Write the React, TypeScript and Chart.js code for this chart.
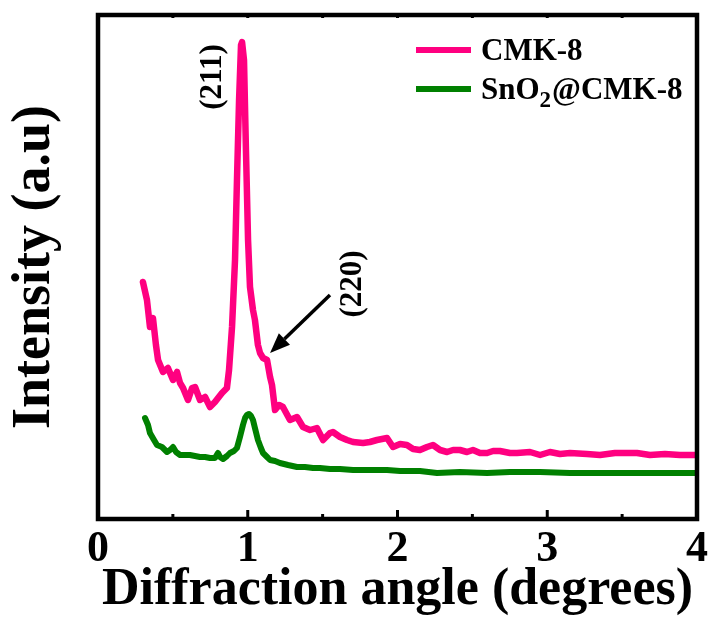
import React, { useEffect, useRef } from "react";
import { Chart, registerables } from "chart.js";

Chart.register(...registerables);

// ---- Data (x in degrees, y intensity in arbitrary units) ----
const cmkX = [0.300, 0.327, 0.347, 0.367, 0.387, 0.401, 0.434, 0.467, 0.501, 0.528, 0.548, 0.568, 0.601, 0.628, 0.648, 0.681, 0.715, 0.748, 0.781, 0.828, 0.861, 0.875, 0.895, 0.915, 0.928, 0.942, 0.955, 0.962, 0.975, 0.988, 1.002, 1.015, 1.035, 1.048, 1.068, 1.082, 1.102, 1.129, 1.149, 1.162, 1.182, 1.209, 1.235, 1.282, 1.329, 1.369, 1.416, 1.462, 1.503, 1.549, 1.569, 1.616, 1.663, 1.703, 1.770, 1.816, 1.863, 1.930, 1.970, 2.017, 2.063, 2.104, 2.150, 2.197, 2.237, 2.284, 2.331, 2.371, 2.417, 2.464, 2.504, 2.551, 2.598, 2.638, 2.684, 2.751, 2.798, 2.885, 2.952, 3.018, 3.085, 3.152, 3.265, 3.352, 3.452, 3.599, 3.686, 3.786, 3.886, 4.000];
const cmkY = [237, 219, 192, 201, 174, 159, 147, 151, 139, 147, 136, 131, 119, 131, 132, 119, 122, 112, 117, 126, 131, 149, 192, 259, 339, 419, 474, 477, 459, 369, 279, 232, 209, 199, 174, 166, 161, 159, 142, 134, 109, 114, 112, 99, 102, 92, 89, 91, 79, 86, 87, 82, 79, 77, 76, 77, 79, 81, 72, 75, 74, 70, 69, 72, 74, 69, 67, 69, 69, 67, 69, 66, 66, 68, 68, 66, 66, 67, 64, 67, 65, 66, 65, 64, 66, 66, 64, 65, 64, 64];

const snoX = [0.314, 0.334, 0.347, 0.374, 0.394, 0.427, 0.461, 0.481, 0.501, 0.521, 0.548, 0.581, 0.614, 0.648, 0.681, 0.715, 0.748, 0.781, 0.801, 0.815, 0.835, 0.861, 0.881, 0.908, 0.928, 0.948, 0.968, 0.982, 0.995, 1.008, 1.022, 1.035, 1.048, 1.068, 1.088, 1.102, 1.129, 1.149, 1.182, 1.215, 1.269, 1.329, 1.382, 1.436, 1.482, 1.549, 1.616, 1.703, 1.816, 1.930, 2.017, 2.150, 2.264, 2.417, 2.598, 2.751, 2.952, 3.152, 3.352, 3.553, 3.753, 4.000];
const snoY = [101, 94, 86, 79, 74, 72, 67, 69, 72, 67, 64, 64, 64, 63, 62, 62, 61, 61, 66, 62, 60, 63, 66, 68, 71, 82, 94, 101, 104, 105, 103, 99, 91, 79, 71, 66, 62, 59, 58, 56, 54, 52, 52, 51, 51, 50, 50, 49, 49, 49, 48, 48, 46, 47, 46, 47, 47, 46, 46, 46, 46, 46];

const xTicks = [0, 1, 2, 3, 4];
const xMin = 0;
const xMax = 4;
const yMin = 0;
const yMax = 504;

const seriesNames = ["CMK-8", "SnO2@CMK-8"];
// legend label segments: [text, isSubscript]
const legendSegments: [string, boolean][][] = [
  [["CMK-8", false]],
  [["SnO", false], ["2", true], ["@CMK-8", false]],
];
const seriesColors = ["#FF0080", "#008000"];

const xTitle = "Diffraction angle (degrees)";
const yTitle = "Intensity (a.u)";

// peak annotations in data coordinates
const peakLabels = ["(211)", "(220)"];
const peakLabelX = [0.768, 1.703];
const peakLabelY = [442, 235];
const arrowFrom = [1.549, 224];
const arrowTo = [1.149, 166];

const FONT = "'Liberation Serif', 'Times New Roman', serif";

const decorPlugin = {
  id: "decor",
  afterDatasetsDraw(chart: any) {
    const { ctx, chartArea: a, scales } = chart;
    const x = scales.x;
    const y = scales.y;
    ctx.save();

    // frame
    ctx.strokeStyle = "#000";
    ctx.lineWidth = 4.5;
    ctx.strokeRect(a.left, a.top, a.right - a.left, a.bottom - a.top);

    // inward ticks
    ctx.lineWidth = 3;
    for (let v = xMin; v <= xMax + 1e-9; v += 0.5) {
      const px = x.getPixelForValue(v);
      const major = Math.abs(v - Math.round(v)) < 1e-9;
      const len = major ? 9 : 5;
      ctx.beginPath();
      ctx.moveTo(px, a.bottom);
      ctx.lineTo(px, a.bottom - len);
      ctx.stroke();
      ctx.beginPath();
      ctx.moveTo(px, a.top);
      ctx.lineTo(px, a.top + 3);
      ctx.stroke();
    }

    // peak labels (rotated)
    ctx.fillStyle = "#000";
    ctx.font = `bold 31px ${FONT}`;
    ctx.textAlign = "center";
    ctx.textBaseline = "middle";
    peakLabels.forEach((t, i) => {
      const px = x.getPixelForValue(peakLabelX[i]);
      const py = y.getPixelForValue(peakLabelY[i]);
      ctx.save();
      ctx.translate(px, py);
      ctx.rotate(-Math.PI / 2);
      ctx.fillText(t, 0, 0);
      ctx.restore();
    });

    // arrow
    const x1 = x.getPixelForValue(arrowFrom[0]);
    const y1 = y.getPixelForValue(arrowFrom[1]);
    const x2 = x.getPixelForValue(arrowTo[0]);
    const y2 = y.getPixelForValue(arrowTo[1]);
    const ang = Math.atan2(y2 - y1, x2 - x1);
    const headLen = 20;
    const headW = 8;
    const bx = x2 - headLen * Math.cos(ang);
    const by = y2 - headLen * Math.sin(ang);
    ctx.strokeStyle = "#000";
    ctx.lineWidth = 3.5;
    ctx.beginPath();
    ctx.moveTo(x1, y1);
    ctx.lineTo(bx, by);
    ctx.stroke();
    ctx.beginPath();
    ctx.moveTo(x2, y2);
    ctx.lineTo(bx + headW * Math.sin(ang), by - headW * Math.cos(ang));
    ctx.lineTo(bx - headW * Math.sin(ang), by + headW * Math.cos(ang));
    ctx.closePath();
    ctx.fill();

    // legend
    const lx0 = a.right - 281;
    const lx1 = a.right - 226;
    const tx = a.right - 216;
    const rows = [a.top + 35, a.top + 74];
    ctx.textAlign = "left";
    ctx.textBaseline = "alphabetic";
    legendSegments.forEach((segs, i) => {
      const ly = rows[i];
      ctx.strokeStyle = seriesColors[i];
      ctx.lineWidth = 6;
      ctx.beginPath();
      ctx.moveTo(lx0, ly);
      ctx.lineTo(lx1, ly);
      ctx.stroke();
      let cx = tx;
      const base = ly + 10;
      segs.forEach(([s, sub]) => {
        ctx.font = sub ? `bold 23px ${FONT}` : `bold 31px ${FONT}`;
        ctx.fillStyle = "#000";
        ctx.fillText(s, cx, sub ? base + 8 : base);
        cx += ctx.measureText(s).width + (sub ? 1 : 0);
      });
    });

    ctx.restore();
  },
};

export default function App() {
  const ref = useRef<HTMLCanvasElement | null>(null);

  useEffect(() => {
    if (!ref.current) return;
    const chart = new Chart(ref.current, {
      type: "line",
      data: {
        datasets: [
          {
            label: seriesNames[0],
            data: cmkX.map((v, i) => ({ x: v, y: cmkY[i] })),
            borderColor: seriesColors[0],
            backgroundColor: seriesColors[0],
            borderWidth: 6.5,
            pointRadius: 0,
            tension: 0,
            borderJoinStyle: "round",
            borderCapStyle: "round",
          },
          {
            label: seriesNames[1],
            data: snoX.map((v, i) => ({ x: v, y: snoY[i] })),
            borderColor: seriesColors[1],
            backgroundColor: seriesColors[1],
            borderWidth: 6,
            pointRadius: 0,
            tension: 0,
            borderJoinStyle: "round",
            borderCapStyle: "round",
          },
        ],
      },
      options: {
        responsive: false,
        animation: false,
        layout: { padding: { top: 15, right: 15, left: 0, bottom: 0 } },
        plugins: {
          legend: { display: false },
          tooltip: { enabled: false },
        },
        scales: {
          x: {
            type: "linear",
            min: xMin,
            max: xMax,
            afterBuildTicks: (s: any) => {
              s.ticks = xTicks.map((v) => ({ value: v }));
            },
            afterFit: (s: any) => {
              s.height = 111;
            },
            grid: { display: false, drawTicks: false },
            border: { display: false },
            ticks: {
              color: "#000",
              padding: 4,
              font: { family: FONT, weight: "bold", size: 44 },
              maxRotation: 0,
            },
            title: {
              display: true,
              text: xTitle,
              color: "#000",
              font: { family: FONT, weight: "bold", size: 52 },
              padding: { top: 0, bottom: 8 },
            },
          },
          y: {
            type: "linear",
            min: yMin,
            max: yMax,
            afterFit: (s: any) => {
              s.width = 98;
            },
            grid: { display: false, drawTicks: false },
            border: { display: false },
            ticks: { display: false },
            title: {
              display: true,
              text: yTitle,
              color: "#000",
              font: { family: FONT, weight: "bold", size: 54 },
              padding: { top: 3, bottom: 0 },
            },
          },
        },
      },
      plugins: [decorPlugin],
    });
    return () => chart.destroy();
  }, []);

  return (
    <div style={{ position: "fixed", left: 0, top: 0, width: 712, height: 630, background: "#fff" }}>
      <canvas ref={ref} width={712} height={630} style={{ display: "block" }} />
    </div>
  );
}
